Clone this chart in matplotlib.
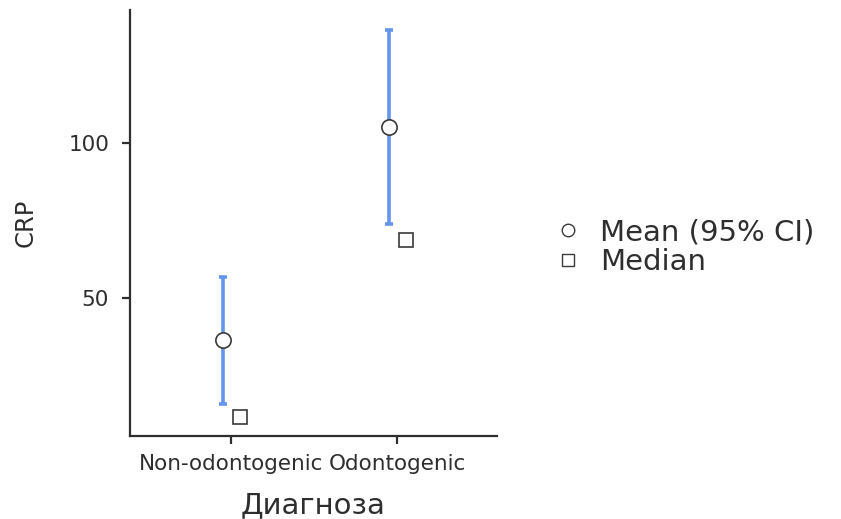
import matplotlib
matplotlib.use("Agg")
import matplotlib.pyplot as plt
from matplotlib.lines import Line2D

plt.rcParams['font.family'] = ['DejaVu Sans']

groups = ["Non-odontogenic", "Odontogenic"]
means = [36.5, 105.2]
ci_low = [15.8, 73.9]
ci_high = [56.8, 136.5]
medians = [11.6, 68.7]

fig = plt.figure(figsize=(8.41, 5.19), dpi=100)
ax = fig.add_axes([0.1546, 0.160, 0.4364, 0.821])

pos = [1, 2]
dodge = 0.05
line_col = "#6495ED"
edge_col = "#3a3a3a"
text_col = "#2e2e2e"

for i, p in enumerate(pos):
    x = p - dodge
    ax.errorbar(x, means[i],
                yerr=[[means[i] - ci_low[i]], [ci_high[i] - means[i]]],
                fmt='none', ecolor=line_col, elinewidth=2.6,
                capsize=3, capthick=2.6, zorder=2)
    ax.plot(x, means[i], 'o', ms=11, mfc='white', mec=edge_col, mew=1.2, zorder=3)
    ax.plot(p + dodge, medians[i], 's', ms=9.5, mfc='white', mec=edge_col, mew=1.2, zorder=3)

ax.set_xlim(0.39, 2.6)
ax.set_ylim(5.5, 142.9)
ax.set_xticks(pos)
ax.set_xticklabels(groups)
ax.set_yticks([50, 100])

for s in ["top", "right"]:
    ax.spines[s].set_visible(False)
for s in ["left", "bottom"]:
    ax.spines[s].set_color(text_col)
    ax.spines[s].set_linewidth(1.6)
ax.tick_params(axis='both', colors=text_col, width=1.6, length=6,
               labelsize=15.5, labelcolor=text_col)
ax.tick_params(axis='y', pad=9)
ax.tick_params(axis='x', pad=7)

ax.set_xlabel("Диагноза", fontsize=21, color=text_col, labelpad=12)
ax.set_ylabel("CRP", fontsize=17.5, color=text_col, labelpad=22)

handles = [
    Line2D([], [], marker='o', ls='none', ms=9, mfc='white', mec=edge_col, mew=1.0),
    Line2D([], [], marker='s', ls='none', ms=8, mfc='white', mec=edge_col, mew=1.0),
]
fig.legend(handles, ["Mean (95% CI)", "Median"], loc='center left',
           bbox_to_anchor=(0.627, 0.524), frameon=False, fontsize=21,
           handletextpad=0.6, labelspacing=0.05, handlelength=1.0,
           labelcolor=text_col)

fig.savefig("out.png", dpi=100)
